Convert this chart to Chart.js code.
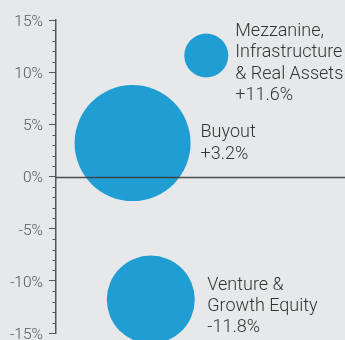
<!DOCTYPE html>
<html>
<head>
<meta charset="utf-8">
<script src="https://cdn.jsdelivr.net/npm/chart.js@4"></script>
<style>
  html, body { margin: 0; padding: 0; background: #e7e8e9; overflow: hidden; }
  #wrap { position: relative; width: 345px; height: 340px; }
</style>
</head>
<body>
<div id="wrap"><canvas id="c" width="345" height="340"></canvas></div>
<script>
// Strategy groups and their annual returns (%)
const categories = [
  ['Mezzanine,', 'Infrastructure', '& Real Assets'],
  ['Buyout'],
  ['Venture &', 'Growth Equity']
];
const returns = [11.6, 3.2, -11.8];
// Bubble radius (relative size of each group)
const sizes = [22, 58, 44];
// Horizontal spread of the bubbles (unitless, 0–100)
const spread = [52, 26.5, 32.8];
// Value axis
const yTicks = [-15, -10, -5, 0, 5, 10, 15];

const AXIS = '#555';
const TEXT = '#333';

function fmtReturn(v) {
  return (v > 0 ? '+' : '') + v.toFixed(1) + '%';
}

// Minor ticks, zero line over the bubbles and the bubble captions
const overlay = {
  id: 'overlay',
  afterDatasetsDraw(chart, args, opts) {
    const { ctx, chartArea, scales } = chart;
    const y = scales.y;
    const axisX = y.right;
    ctx.save();
    // minor ticks every 1%
    ctx.strokeStyle = AXIS;
    ctx.lineWidth = 1;
    for (let v = yTicks[0]; v <= yTicks[yTicks.length - 1]; v++) {
      if (v % 5 === 0) continue;
      const py = Math.round(y.getPixelForValue(v)) + 0.5;
      ctx.beginPath();
      ctx.moveTo(axisX - 3.5, py);
      ctx.lineTo(axisX, py);
      ctx.stroke();
    }
    // zero line
    const zy = Math.round(y.getPixelForValue(0)) + 0.5;
    ctx.strokeStyle = 'rgba(60,60,60,0.9)';
    ctx.lineWidth = 1.3;
    ctx.beginPath();
    ctx.moveTo(axisX, zy);
    ctx.lineTo(chartArea.right, zy);
    ctx.stroke();

    // captions
    const meta = chart.getDatasetMeta(0);
    ctx.fillStyle = TEXT;
    ctx.font = '300 18px Roboto, "Open Sans", sans-serif';
    ctx.textAlign = 'left';
    ctx.textBaseline = 'alphabetic';
    const lh = 21.3;
    meta.data.forEach((pt, i) => {
      const lines = categories[i].concat([fmtReturn(returns[i])]);
      const r = sizes[i];
      const tx = pt.x + r + opts.gaps[i];
      const first = pt.y - (lines.length - 1) * lh / 2 + 6.4 + opts.shifts[i];
      lines.forEach((t, k) => ctx.fillText(t, tx, first + k * lh));
    });
    ctx.restore();
  }
};

new Chart(document.getElementById('c'), {
  type: 'bubble',
  data: {
    datasets: [{
      data: returns.map((v, i) => ({ x: spread[i], y: v, r: sizes[i] })),
      backgroundColor: '#209dd3',
      borderWidth: 0,
      hoverBackgroundColor: '#209dd3',
      hoverBorderWidth: 0,
      clip: false
    }]
  },
  options: {
    responsive: false,
    animation: false,
    events: [],
    layout: { autoPadding: false, padding: { top: 20, bottom: 7, left: 0, right: 0 } },
    plugins: {
      legend: { display: false },
      tooltip: { enabled: false },
      overlay: { gaps: [7, 10, 12.5], shifts: [6, -1.5, 5] }
    },
    scales: {
      x: { display: false, min: 0, max: 100 },
      y: {
        min: yTicks[0],
        max: yTicks[yTicks.length - 1],
        afterBuildTicks(scale) { scale.ticks = yTicks.map(v => ({ value: v })); },
        afterFit(scale) {
          scale.width = 56;
          scale.paddingTop = 0;
          scale.paddingBottom = 0;
        },
        ticks: {
          color: '#555',
          font: { family: 'Roboto', size: 15.5, weight: 300 },
          padding: 6,
          labelOffset: 2,
          callback: v => v + '%'
        },
        grid: {
          drawOnChartArea: false,
          drawTicks: true,
          tickLength: 7,
          tickColor: AXIS,
          tickWidth: 1
        },
        border: { display: true, color: AXIS, width: 1.5 }
      }
    }
  },
  plugins: [overlay]
});
</script>
</body>
</html>
